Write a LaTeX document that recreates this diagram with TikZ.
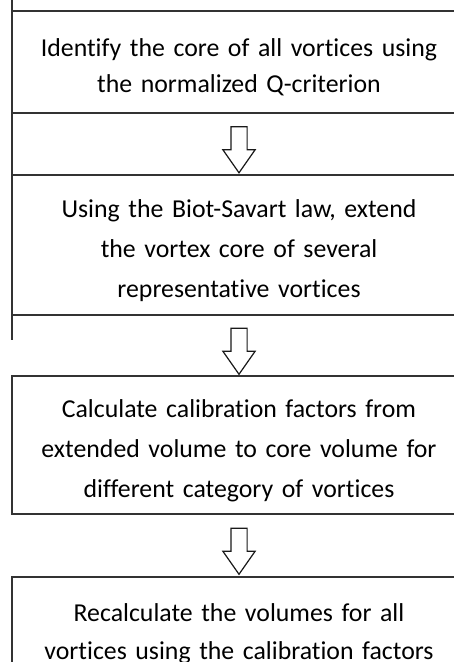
\documentclass[tikz,border=0pt]{standalone}
\usepackage{fontspec}
\setmainfont{Carlito}[Ligatures=NoCommon]
\usetikzlibrary{calc, shapes.arrows}

\begin{document}
\begin{tikzpicture}[x=1pt, y=1pt,
    stepbox/.style={draw=black!80, line width=1.3pt, minimum width=454pt,
        text width=440pt, align=center, inner sep=0pt,
        font=\fontsize{25.8}{40}\selectfont,
        execute at begin node={\rule{0pt}{29pt}}},
    flowarrow/.style={draw=black!90, line width=1.2pt, fill=white,
        single arrow, rotate=-90, inner sep=7.5pt, minimum height=46pt,
        single arrow head extend=8pt, single arrow tip angle=70}]
    \useasboundingbox (0,0) rectangle (454,662);
    \clip (0,0) rectangle (454,662);

    % Define the four steps
    \node[stepbox, minimum height=102pt, font=\fontsize{25.8}{36}\selectfont] (step1) at (239, 600)
        {Identify the core of all vortices using\\ the normalized Q-criterion};
    \node[stepbox, minimum height=140pt] (step2) at (239, 417)
        {Using the Biot-Savart law, extend\\ the vortex core of several\\ representative vortices};
    \node[stepbox, minimum height=138pt] (step3) at (239, 217)
        {Calculate calibration factors from\\ extended volume to core volume for\\ different category of vortices};
    \node[stepbox, minimum height=102pt, font=\fontsize{25.8}{38.5}\selectfont,
        execute at begin node={\rule{0pt}{26pt}}] (step4) at (239, 34)
        {Recalculate the volumes for all\\ vortices using the calibration factors};

    % Draw the hollow arrows between the steps
    \node[flowarrow] (arr1) at ($(step1.south)!0.5!(step2.north)$) {};
    \node[flowarrow] (arr2) at ($(step2.south)!0.5!(step3.north)$) {};
    \node[flowarrow] (arr3) at ($(step3.south)!0.5!(step4.north)$) {};

    % Left border line running past the first two boxes
    \draw[black!80, line width=1.3pt] (12,662) -- (12,322);
\end{tikzpicture}
\end{document}
